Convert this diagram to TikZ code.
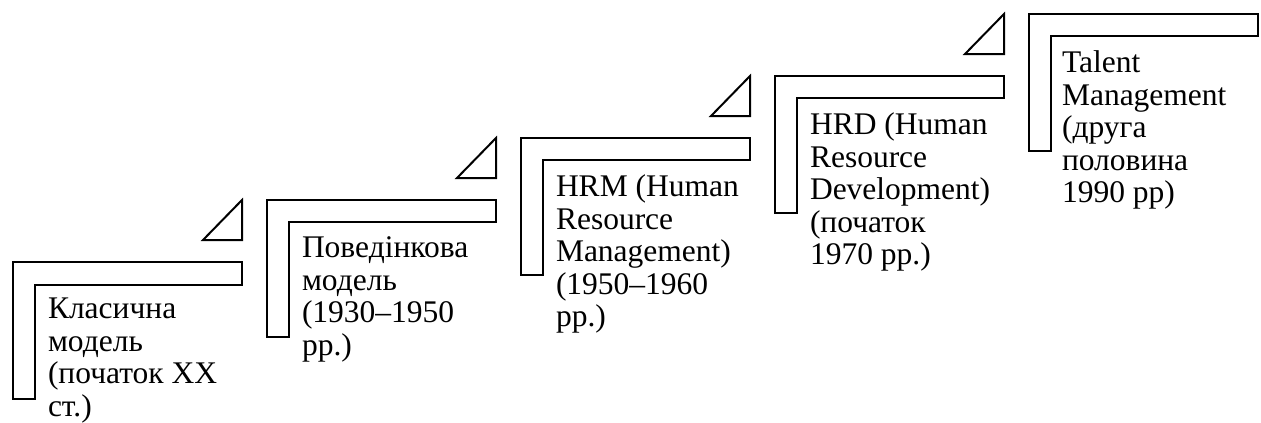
\documentclass[tikz,border=0pt]{standalone}
\usepackage{fontspec}
\setmainfont{Liberation Serif}

\begin{document}
\begin{tikzpicture}[x=1pt, y=-1pt, line width=2pt,
  stair/.style={draw, line join=miter},
  wedge/.style={draw, line join=miter},
  stagetext/.style={anchor=north west, inner sep=0pt, align=left, font=\fontsize{31.5}{32.5}\selectfont}]
\useasboundingbox (0,0) rectangle (1261,423);

% stage 1
\draw[stair] (13,262) -- (242,262) -- (242,285) -- (35,285) -- (35,399) -- (13,399) -- cycle;
\draw[wedge] (203,240) -- (242,200) -- (242,240) -- cycle;
\node[stagetext] (s1) at (47,297) {Класична\\модель\\(початок XX\\ст.)};

% stage 2
\draw[stair] (267,200) -- (496,200) -- (496,222) -- (289,222) -- (289,337) -- (267,337) -- cycle;
\draw[wedge] (457,178) -- (496,138) -- (496,178) -- cycle;
\node[stagetext] (s2) at (301,236) {Поведінкова\\модель\\(1930–1950\\рр.)};

% stage 3
\draw[stair] (521,138) -- (750,138) -- (750,160) -- (543,160) -- (543,275) -- (521,275) -- cycle;
\draw[wedge] (711,116) -- (750,76) -- (750,116) -- cycle;
\node[stagetext] (s3) at (555,174) {HRM (Human\\Resource\\Management)\\(1950–1960\\рр.)};

% stage 4
\draw[stair] (775,76) -- (1004,76) -- (1004,98) -- (797,98) -- (797,213) -- (775,213) -- cycle;
\draw[wedge] (965,54) -- (1004,14) -- (1004,54) -- cycle;
\node[stagetext] (s4) at (809,112) {HRD (Human\\Resource\\Development)\\(початок\\1970 рр.)};

% stage 5
\draw[stair] (1029,14) -- (1258,14) -- (1258,36) -- (1051,36) -- (1051,151) -- (1029,151) -- cycle;
\node[stagetext] (s5) at (1061,50) {Talent\\Management\\(друга\\половина\\1990 рр)};

\end{tikzpicture}
\end{document}
